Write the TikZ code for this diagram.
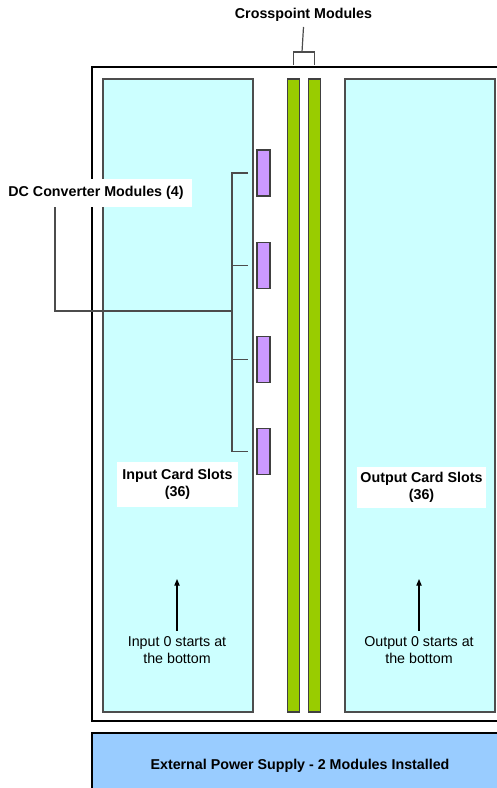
\documentclass[tikz,border=0pt]{standalone}
\usepackage{fontspec}
\setmainfont{Liberation Sans}
\usetikzlibrary{arrows.meta, positioning}
\definecolor{slotcyan}{HTML}{CCFFFF}
\definecolor{xptgreen}{HTML}{99CC00}
\definecolor{dcpurple}{HTML}{CC99FF}
\definecolor{psublue}{HTML}{99CCFF}
\definecolor{edgegray}{HTML}{4D4D4D}

\begin{document}
\begin{tikzpicture}[x=0.75pt, y=-0.75pt,
  every node/.style={align=center, inner sep=0pt, outer sep=0pt,
    font=\fontsize{10.7}{12.5}\selectfont},
  slotbox/.style={draw=edgegray, line width=1pt, fill=slotcyan, anchor=north west},
  xptbar/.style={draw=black!75, line width=1pt, fill=xptgreen, anchor=north west,
    minimum width=12*0.75pt, minimum height=633*0.75pt},
  dcbox/.style={draw=black!75, line width=1pt, fill=dcpurple,
    minimum width=13*0.75pt, minimum height=46*0.75pt},
  tag/.style={fill=white, font=\fontsize{10.7}{12.5}\selectfont\bfseries},
  bracket/.style={draw=black!70, line width=0.9pt}]
\useasboundingbox (0,0) rectangle (496,788);

% Chassis and power supply
\node (frame) [draw, line width=0.8pt, anchor=north west,
  minimum width=430*0.75pt, minimum height=654*0.75pt] at (92,67) {};
\node (psu) [draw, line width=0.8pt, fill=psublue, anchor=north west,
  minimum width=430*0.75pt, minimum height=80*0.75pt] at (92,733) {};
\node (psutext) [font=\fontsize{10.7}{12.5}\selectfont\bfseries] at (300,766)
  {External Power Supply - 2 Modules Installed};

% Card slots
\node (inslots) [slotbox, minimum width=150*0.75pt, minimum height=633*0.75pt] at (103,79) {};
\node (outslots) [slotbox, minimum width=150*0.75pt, minimum height=633*0.75pt] at (345,79) {};

% Crosspoint modules
\node (xpt1) [xptbar] at (287.5,79) {};
\node (xpt2) [xptbar] at (308.5,79) {};

% DC converter modules
\foreach \i/\yc in {1/173, 2/265.5, 3/359.5, 4/451.5}
  \node (dc\i) [dcbox] at (263.5,\yc) {};

% Labels
\node (xptlabel) [tag] at (303.5,15) {Crosspoint Modules};
\node (dclabel) [tag, minimum width=192*0.75pt, minimum height=28*0.75pt] at (96,193)
  {DC Converter Modules (4)};
\node (inlabel) [tag, minimum width=121*0.75pt, minimum height=45*0.75pt] at (177.5,484.5)
  {Input Card Slots\\(36)};
\node (outlabel) [tag, minimum width=129*0.75pt, minimum height=41*0.75pt] at (421.5,487.5)
  {Output Card Slots\\(36)};
\node (innote) at (177,650) {Input 0 starts at\\the bottom};
\node (outnote) at (419,650) {Output 0 starts at\\the bottom};

% Crosspoint bracket
\coordinate (xptjoin) at (302,52);
\draw[bracket] (xptlabel.south |- 0,27) -- (xptjoin);
\draw[bracket] (xpt1.north |- 0,65) |- (xptjoin) -| (xpt2.north |- 0,65);

% DC converter bracket
\coordinate (dcspine) at (232,311);
\draw[bracket] (dc1.west) ++(-9,0) -| (dc4.west -| dcspine) -- ++(16,0);
\draw[bracket] (dc2.west -| dcspine) -- ++(16,0);
\draw[bracket] (dc3.west -| dcspine) -- ++(16,0);
\draw[bracket] (dclabel.south -| 55,0) |- (dcspine);

% Numbering arrows
\draw[-{Triangle[length=5pt,width=4pt]}, line width=0.8pt] (innote.north) ++(0,-6) -- (177,579);
\draw[-{Triangle[length=5pt,width=4pt]}, line width=0.8pt] (outnote.north) ++(0,-6) -- (419,579);
\end{tikzpicture}
\end{document}
